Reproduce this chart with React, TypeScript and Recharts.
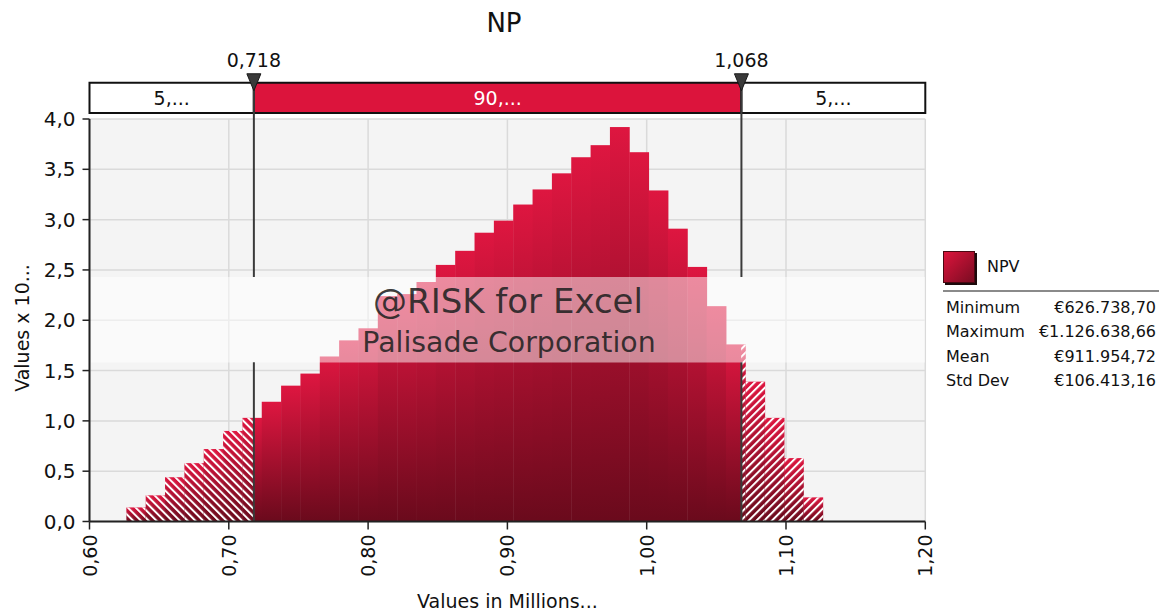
import React from "react";
import {
  ComposedChart,
  Bar,
  XAxis,
  YAxis,
  CartesianGrid,
  ReferenceLine,
  ReferenceArea,
  ReferenceDot,
} from "recharts";

const FONT = "'DejaVu Sans', Verdana, sans-serif";

// NPV simulation, values in millions
const npvMin = 0.6267387;
const npvMax = 1.12663866;
const binDensity = [
  0.14, 0.26, 0.44, 0.58, 0.72, 0.9, 1.03, 1.19, 1.35, 1.47, 1.64, 1.8,
  1.92, 2.24, 2.26, 2.38, 2.55, 2.69, 2.87, 2.99, 3.15, 3.3, 3.46, 3.62,
  3.74, 3.92, 3.67, 3.29, 2.91, 2.53, 2.14, 1.76, 1.39, 1.03, 0.63, 0.24,
];

const lowCut = 0.718;
const highCut = 1.068;
const cutLabels = ["0,718", "1,068"];
const shareLabels = ["5,...", "90,...", "5,..."];

const xTicks = [0.6, 0.7, 0.8, 0.9, 1.0, 1.1, 1.2];
const yTicks = [0, 0.5, 1, 1.5, 2, 2.5, 3, 3.5, 4];

const statLabels = ["Minimum", "Maximum", "Mean", "Std Dev"];
const statValues = ["€626.738,70", "€1.126.638,66", "€911.954,72", "€106.413,16"];

// strip above the plot and the watermark band, in y units
const stripY = [4.06, 4.36];
const watermarkY = [1.585, 2.43];

const binWidth = (npvMax - npvMin) / binDensity.length;
const data = binDensity.map((v, i) => ({
  x: npvMin + (i + 0.5) * binWidth,
  start: npvMin + i * binWidth,
  end: npvMin + (i + 1) * binWidth,
  value: v,
}));

const comma = (v: number, d: number) => v.toFixed(d).replace(".", ",");

function HistBar(props: any) {
  const { x, y, width, height, payload } = props;
  if (!height || height <= 0) return null;
  const span = payload.end - payload.start;
  const lf = Math.min(1, Math.max(0, (lowCut - payload.start) / span));
  const rf = Math.min(1, Math.max(0, (payload.end - highCut) / span));
  const lw = width * lf;
  const rw = width * rf;
  // small overlap so neighbouring bins do not show a seam
  return (
    <g>
      <rect x={x - 0.4} y={y} width={width + 0.8} height={height} fill="url(#barFill)" />
      {lw > 0 && <rect x={x - 0.4} y={y} width={lw + 0.4} height={height} fill="url(#hatchL)" />}
      {rw > 0 && (
        <rect x={x + width - rw} y={y} width={rw + 0.4} height={height} fill="url(#hatchR)" />
      )}
    </g>
  );
}

function XTick({ x, y, payload }: any) {
  return (
    <text
      x={x}
      y={y}
      transform={`rotate(-90, ${x}, ${y})`}
      textAnchor="end"
      dominantBaseline="central"
      fontSize={19}
      fontFamily={FONT}
      fill="#111"
    >
      {comma(payload.value, 2)}
    </text>
  );
}

const marker = (label: string) => (props: any) => {
  const { cx, cy } = props;
  return (
    <g>
      <path
        d={`M${cx - 7},${cy - 9} L${cx + 7},${cy - 9} L${cx},${cy + 8} Z`}
        fill="#3a3a3a"
        stroke="#1a1a1a"
        strokeWidth={1}
      />
      <text
        x={cx}
        y={cy - 23}
        textAnchor="middle"
        dominantBaseline="central"
        fontSize={19}
        fontFamily={FONT}
        fill="#111"
      >
        {label}
      </text>
    </g>
  );
};

export default function App() {
  const lineStyle = { stroke: "#3a3a3a", strokeWidth: 2 };
  return (
    <div
      style={{
        position: "absolute",
        left: 0,
        top: 0,
        width: 1166,
        height: 615,
        background: "#fff",
        fontFamily: FONT,
      }}
    >
      <ComposedChart
        width={1166}
        height={615}
        data={data}
        margin={{ top: 119, right: 240.7, bottom: 0, left: 29.5 }}
        barCategoryGap={0}
        barGap={0}
      >
        <defs>
          <linearGradient id="barFill" x1="0" y1="0" x2="0" y2="1">
            <stop offset="0%" stopColor="#de1640" />
            <stop offset="100%" stopColor="#6a0a1c" />
          </linearGradient>
          <pattern
            id="hatchL"
            patternUnits="userSpaceOnUse"
            width={5.5}
            height={5.5}
            patternTransform="rotate(-45)"
          >
            <line x1={1} y1={0} x2={1} y2={5.5} stroke="#fff" strokeWidth={2} />
          </pattern>
          <pattern
            id="hatchR"
            patternUnits="userSpaceOnUse"
            width={5.5}
            height={5.5}
            patternTransform="rotate(45)"
          >
            <line x1={1} y1={0} x2={1} y2={5.5} stroke="#fff" strokeWidth={2} />
          </pattern>
        </defs>
        <CartesianGrid fill="#f4f4f4" stroke="#dadada" strokeWidth={1.5} />
        <XAxis
          dataKey="x"
          type="number"
          domain={[0.6, 1.2]}
          ticks={xTicks}
          interval={0}
          height={93.5}
          tickSize={8}
          tickMargin={5}
          tick={<XTick />}
          axisLine={{ stroke: "#222", strokeWidth: 2 }}
          tickLine={{ stroke: "#222", strokeWidth: 1.5 }}
          label={{
            value: "Values in Millions...",
            position: "insideBottom",
            offset: 7,
            fontSize: 19,
            fontFamily: FONT,
            fill: "#111",
          }}
        />
        <YAxis
          type="number"
          domain={[0, 4]}
          ticks={yTicks}
          interval={0}
          width={60}
          tickSize={7}
          tickMargin={7}
          tickFormatter={(v) => comma(v, 1)}
          tick={{ fontSize: 20, fontFamily: FONT, fill: "#111" }}
          axisLine={{ stroke: "#222", strokeWidth: 2 }}
          tickLine={{ stroke: "#222", strokeWidth: 1.5 }}
        />
        <Bar dataKey="value" shape={<HistBar />} isAnimationActive={false} />
        <ReferenceArea
          x1={0.6}
          x2={lowCut}
          y1={stripY[0]}
          y2={stripY[1]}
          ifOverflow="visible"
          fill="#fff"
          fillOpacity={1}
          stroke="#111"
          strokeWidth={2}
          label={{ value: shareLabels[0], position: "center", fontSize: 19, fontFamily: FONT, fill: "#111" }}
        />
        <ReferenceArea
          x1={lowCut}
          x2={highCut}
          y1={stripY[0]}
          y2={stripY[1]}
          ifOverflow="visible"
          fill="#dc143c"
          fillOpacity={1}
          stroke="#111"
          strokeWidth={2}
          label={{ value: shareLabels[1], position: "center", fontSize: 19, fontFamily: FONT, fill: "#fff" }}
        />
        <ReferenceArea
          x1={highCut}
          x2={1.2}
          y1={stripY[0]}
          y2={stripY[1]}
          ifOverflow="visible"
          fill="#fff"
          fillOpacity={1}
          stroke="#111"
          strokeWidth={2}
          label={{ value: shareLabels[2], position: "center", fontSize: 19, fontFamily: FONT, fill: "#111" }}
        />
        {[lowCut, highCut].map((c) => (
          <ReferenceLine
            key={"lo" + c}
            segment={[{ x: c, y: 0 }, { x: c, y: watermarkY[0] }]}
            ifOverflow="visible"
            {...lineStyle}
          />
        ))}
        {[lowCut, highCut].map((c) => (
          <ReferenceLine
            key={"hi" + c}
            segment={[{ x: c, y: watermarkY[1] }, { x: c, y: stripY[1] }]}
            ifOverflow="visible"
            {...lineStyle}
          />
        ))}
        {[lowCut, highCut].map((c, i) => (
          <ReferenceDot
            key={"m" + c}
            x={c}
            y={stripY[1]}
            r={1}
            ifOverflow="visible"
            shape={marker(cutLabels[i])}
          />
        ))}
      </ComposedChart>

      <svg
        width={1166}
        height={615}
        style={{ position: "absolute", left: 0, top: 0, pointerEvents: "none" }}
      >
        <text x={504} y={23} textAnchor="middle" dominantBaseline="central" fontSize={26} fontFamily={FONT} fill="#111">
          NP
        </text>
        <text
          x={22}
          y={328}
          transform="rotate(-90, 22, 328)"
          textAnchor="middle"
          dominantBaseline="central"
          fontSize={19}
          fontFamily={FONT}
          fill="#111"
        >
          Values x 10...
        </text>
        <rect x={91} y={277} width={834} height={85.5} fill="#fff" fillOpacity={0.5} />
        <text x={508} y={301} textAnchor="middle" dominantBaseline="central" fontSize={34} fontFamily={FONT} fill="#222" fillOpacity={0.88}>
          @RISK for Excel
        </text>
        <text x={509} y={342} textAnchor="middle" dominantBaseline="central" fontSize={28.4} fontFamily={FONT} fill="#222" fillOpacity={0.88}>
          Palisade Corporation
        </text>
      </svg>

      <div
        style={{
          position: "absolute",
          left: 943,
          top: 251,
          width: 30,
          height: 30,
          background: "linear-gradient(135deg, #dc143c 0%, #7a0c22 100%)",
          border: "1px solid #4a0812",
          boxShadow: "2px 2px 0 #1c0a0c",
        }}
      />
      <div style={{ position: "absolute", left: 987, top: 257, fontSize: 16, color: "#111", lineHeight: "20px" }}>
        NPV
      </div>
      <div style={{ position: "absolute", left: 943, top: 290, width: 216, height: 2, background: "#8a8a8a" }} />
      {statLabels.map((l, i) => (
        <div
          key={l}
          style={{
            position: "absolute",
            left: 946,
            top: 298 + i * 24.3,
            width: 210,
            fontSize: 16,
            lineHeight: "20px",
            color: "#111",
            display: "flex",
            justifyContent: "space-between",
          }}
        >
          <span>{l}</span>
          <span>{statValues[i]}</span>
        </div>
      ))}
    </div>
  );
}
